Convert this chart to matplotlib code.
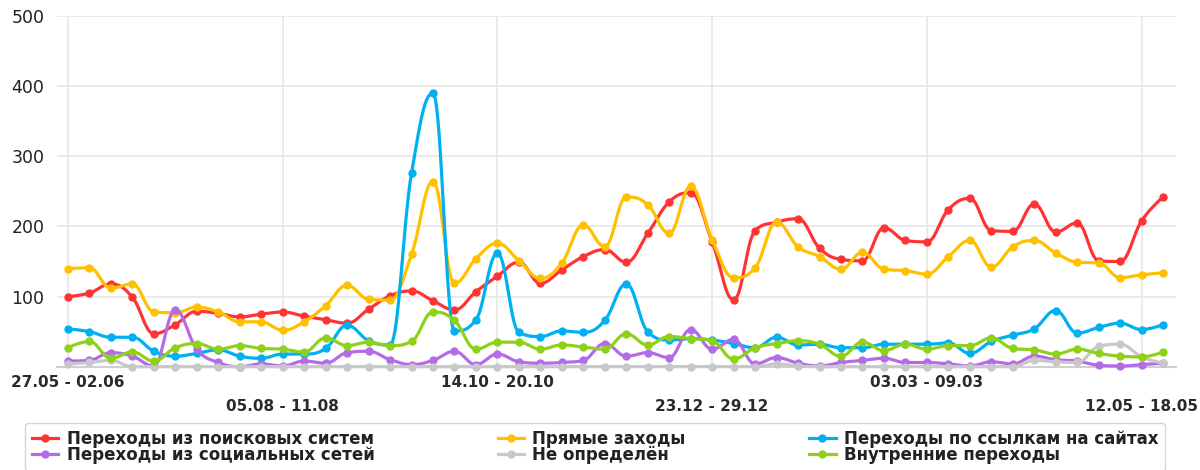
import numpy as np
import matplotlib
matplotlib.use("Agg")
import matplotlib.pyplot as plt
from matplotlib.lines import Line2D

# ---------------- data ----------------
weeks = list(range(52))
major_ticks = [0, 20, 40]
major_labels = ["27.05 - 02.06", "14.10 - 20.10", "03.03 - 09.03"]
minor_ticks = [10, 30, 50]
minor_labels = ["05.08 - 11.08", "23.12 - 29.12", "12.05 - 18.05"]
y_ticks = [100, 200, 300, 400, 500]

search = [100, 105, 118, 99, 47, 60, 79, 76, 71, 75, 78, 72, 67, 62, 82, 101,
          108, 94, 81, 107, 129, 149, 119, 138, 157, 167, 149, 190, 235, 248,
          178, 95, 194, 206, 211, 169, 153, 151, 198, 180, 178, 224, 240, 194,
          193, 232, 192, 205, 151, 150, 208, 242]
direct = [140, 141, 112, 118, 78, 77, 85, 78, 64, 64, 52, 64, 87, 116, 96, 95,
          160, 264, 119, 154, 176, 151, 126, 148, 202, 171, 242, 231, 190, 257,
          181, 127, 141, 206, 171, 157, 139, 163, 139, 137, 132, 157, 180, 142,
          171, 180, 162, 149, 148, 127, 131, 134]
links = [54, 50, 42, 42, 22, 15, 19, 24, 15, 12, 18, 18, 26, 59, 37, 31,
         276, 390, 51, 67, 162, 49, 43, 51, 49, 66, 118, 50, 38, 40,
         38, 33, 27, 42, 31, 32, 27, 27, 32, 32, 32, 34, 19, 36,
         45, 54, 80, 48, 56, 62, 53, 60]
social = [8, 9, 20, 15, 1, 81, 25, 6, 0, 4, 1, 8, 5, 20, 22, 10,
          3, 9, 22, 3, 18, 7, 5, 6, 9, 33, 15, 20, 13, 53,
          25, 39, 4, 13, 5, 1, 6, 9, 12, 6, 6, 4, 1, 7,
          4, 15, 10, 8, 2, 1, 3, 5]
undefined = [4, 6, 9, 0, 0, 0, 0, 0, 0, 0, 0, 0, 0, 0, 0, 0,
             0, 0, 0, 0, 0, 0, 0, 0, 0, 0, 0, 0, 0, 0,
             0, 0, 0, 4, 1, 0, 0, 0, 0, 0, 0, 0, 0, 0,
             0, 9, 7, 6, 29, 32, 14, 5]
internal = [27, 36, 12, 21, 8, 27, 33, 25, 30, 26, 25, 21, 41, 30, 35, 30,
            36, 78, 66, 25, 35, 35, 25, 31, 28, 25, 47, 31, 43, 40,
            37, 11, 27, 33, 37, 32, 15, 35, 23, 32, 25, 30, 30, 41,
            26, 24, 18, 25, 19, 15, 14, 21]

names = ["Переходы из поисковых систем", "Прямые заходы",
         "Переходы по ссылкам на сайтах", "Переходы из социальных сетей",
         "Не определён", "Внутренние переходы"]
values = [search, direct, links, social, undefined, internal]
colors = ["#ff3333", "#ffc000", "#00b0f0", "#b36ce6", "#c8c8c8", "#8fd11a"]


def hc_spline(x, y, smoothing=1.5, steps=20):
    x = np.asarray(x, float)
    y = np.asarray(y, float)
    n = len(x)
    lcx, lcy, rcx, rcy = x.copy(), y.copy(), x.copy(), y.copy()
    denom = smoothing + 1
    for i in range(1, n - 1):
        px, py = x[i], y[i]
        lx, ly = x[i - 1], y[i - 1]
        nx, ny = x[i + 1], y[i + 1]
        a = (smoothing * px + lx) / denom
        b = (smoothing * py + ly) / denom
        c = (smoothing * px + nx) / denom
        d = (smoothing * py + ny) / denom
        corr = 0.0
        if c != a:
            corr = (d - b) * (c - px) / (c - a) + py - d
        b += corr
        d += corr
        if b > ly and b > py:
            b = max(ly, py); d = 2 * py - b
        elif b < ly and b < py:
            b = min(ly, py); d = 2 * py - b
        if d > ny and d > py:
            d = max(ny, py); b = 2 * py - d
        elif d < ny and d < py:
            d = min(ny, py); b = 2 * py - d
        lcx[i], lcy[i], rcx[i], rcy[i] = a, b, c, d
    t = np.linspace(0, 1, steps)[:, None]
    xs, ys = [x[0]], [y[0]]
    for i in range(1, n):
        P0 = np.array([x[i - 1], y[i - 1]])
        P1 = np.array([rcx[i - 1], rcy[i - 1]])
        P2 = np.array([lcx[i], lcy[i]])
        P3 = np.array([x[i], y[i]])
        B = ((1 - t) ** 3) * P0 + 3 * ((1 - t) ** 2) * t * P1 + 3 * (1 - t) * t ** 2 * P2 + t ** 3 * P3
        xs.extend(B[1:, 0]); ys.extend(B[1:, 1])
    return np.array(xs), np.array(ys)


W, H = 1200, 470
fig = plt.figure(figsize=(W / 100, H / 100), dpi=100)
left, right, top, bottom = 57, 1176, 16, 366.7
ax = fig.add_axes([left / W, 1 - bottom / H, (right - left) / W, (bottom - top) / H])

handles = []
for k, (name, vals, col) in enumerate(zip(names, values, colors)):
    xs, ys = hc_spline(weeks, vals)
    ax.plot(xs, ys, color=col, lw=2.3, solid_capstyle="round",
            solid_joinstyle="round", zorder=3 + k, clip_on=False)
    ax.plot(weeks, vals, "o", color=col, ms=5, mec=col, zorder=3 + k, clip_on=False)
    handles.append(Line2D([], [], color=col, lw=2.3, marker="o", ms=5, label=name))

ax.set_xlim(-0.51, 51.6)
ax.set_ylim(0, 500)

ax.set_yticks(y_ticks)
ax.set_yticklabels([str(v) for v in y_ticks])
ax.set_xticks(major_ticks)
ax.set_xticklabels(major_labels)
ax.set_xticks(minor_ticks, minor=True)
ax.set_xticklabels(minor_labels, minor=True)

ax.tick_params(axis="y", length=0, pad=9, labelsize=12.5, labelcolor="#222222")
ax.tick_params(axis="x", which="major", length=0, pad=6, labelsize=11, labelcolor="#2a2a2a")
ax.tick_params(axis="x", which="minor", length=0, pad=23, labelsize=11, labelcolor="#2a2a2a")
for lab in ax.get_xticklabels(minor=False) + ax.get_xticklabels(minor=True):
    lab.set_fontweight("bold")

ax.grid(True, axis="y", color="#e8e8e8", lw=1.3, zorder=0)
ax.grid(True, axis="x", which="both", color="#e8e8e8", lw=1.3, zorder=0)
ax.set_axisbelow(True)
for s in ["top", "right", "left"]:
    ax.spines[s].set_visible(False)
ax.spines["bottom"].set_color("#d0d0d0")
ax.spines["bottom"].set_linewidth(1.5)

order = [0, 3, 1, 4, 2, 5]
leg_top = 1 - 423 / H
leg = fig.legend([handles[i] for i in order], [names[i] for i in order],
                 loc="upper left", bbox_to_anchor=(25 / W, leg_top - 0.1, 1140 / W, 0.1),
                 mode="expand", ncol=3, borderaxespad=0, frameon=True, fancybox=True,
                 edgecolor="#cccccc", handlelength=1.6, handletextpad=0.5,
                 labelspacing=-0.12, borderpad=0.4,
                 prop={"size": 12, "weight": "bold"})
leg.get_frame().set_linewidth(1.0)
for txt in leg.get_texts():
    txt.set_color("#222222")

fig.savefig("out.png", dpi=100)
